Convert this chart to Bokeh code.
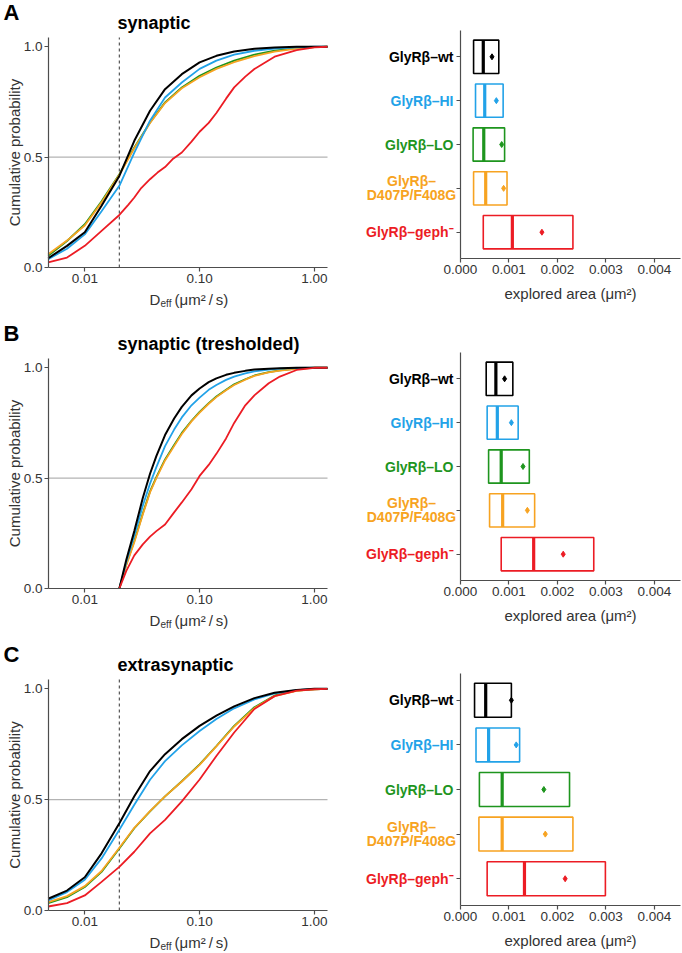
import math
from bokeh.plotting import figure
from bokeh.models import Range1d, FixedTicker, Label, LinearAxis, LogAxis
from bokeh.layouts import column, row
from bokeh.embed import file_html
from bokeh.resources import INLINE

FONT = "Liberation Sans"
AXIS_COL = "#4d4d4d"
TEXT_COL = "#333333"

# ---------------- categories ----------------
group_lines = [["GlyRβ–wt"], ["GlyRβ–HI"], ["GlyRβ–LO"], ["GlyRβ–", "D407P/F408G"], ["GlyRβ–geph⁻"]]
group_colors = ["#000000", "#22a2e8", "#1e951e", "#f7a321", "#ec1c24"]
group_pos = [5, 4, 3, 2, 1]

# ---------------- CDF curves (D_eff in um^2/s, cumulative probability) ----------------
a_x = [0.0048, 0.007, 0.01, 0.014, 0.02, 0.027, 0.037, 0.05, 0.07, 0.1, 0.14, 0.2, 0.3, 0.45, 0.7, 1.0, 1.3]
a_wt = [0.042, 0.098, 0.16, 0.28, 0.415, 0.574, 0.71, 0.808, 0.876, 0.929, 0.959, 0.979, 0.991, 0.997, 1.0, 1.0, 1.0]
a_hi = [0.038, 0.085, 0.15, 0.255, 0.37, 0.52, 0.665, 0.77, 0.838, 0.9, 0.937, 0.964, 0.982, 0.992, 0.997, 1.0, 1.0]
a_lo = [0.053, 0.12, 0.196, 0.30, 0.423, 0.544, 0.657, 0.748, 0.816, 0.869, 0.906, 0.937, 0.964, 0.982, 0.994, 0.998, 1.0]
a_dp = [0.06, 0.122, 0.19, 0.295, 0.42, 0.54, 0.655, 0.745, 0.812, 0.862, 0.9, 0.93, 0.958, 0.978, 0.992, 0.998, 1.0]
a_geph_x = [0.0048, 0.007, 0.01, 0.014, 0.02, 0.024, 0.027, 0.031, 0.037, 0.043, 0.05, 0.058, 0.07, 0.085,
            0.1, 0.12, 0.14, 0.17, 0.2, 0.25, 0.3, 0.45, 0.7, 1.0, 1.3]
a_geph = [0.023, 0.045, 0.098, 0.166, 0.238, 0.285, 0.317, 0.36, 0.40, 0.43, 0.455, 0.49, 0.521, 0.57,
          0.615, 0.655, 0.70, 0.765, 0.816, 0.865, 0.899, 0.955, 0.985, 0.997, 1.0]

b_x = [0.02, 0.023, 0.027, 0.032, 0.037, 0.042, 0.05, 0.06, 0.07, 0.085, 0.1, 0.12, 0.14, 0.17, 0.2,
       0.25, 0.3, 0.4, 0.5, 0.7, 1.0, 1.3]
b_wt = [0.0, 0.13, 0.26, 0.41, 0.52, 0.6, 0.695, 0.77, 0.823, 0.875, 0.906, 0.935, 0.952, 0.968, 0.977,
        0.986, 0.992, 0.996, 0.998, 1.0, 1.0, 1.0]
b_hi = [0.0, 0.12, 0.24, 0.375, 0.475, 0.55, 0.645, 0.72, 0.775, 0.83, 0.865, 0.9, 0.922, 0.945, 0.96,
        0.975, 0.984, 0.992, 0.996, 0.999, 1.0, 1.0]
b_lo = [0.0, 0.11, 0.215, 0.34, 0.44, 0.505, 0.585, 0.65, 0.705, 0.76, 0.80, 0.84, 0.87, 0.9, 0.925,
        0.948, 0.965, 0.98, 0.988, 0.996, 1.0, 1.0]
b_dp = [0.0, 0.105, 0.21, 0.335, 0.435, 0.5, 0.58, 0.645, 0.7, 0.757, 0.797, 0.837, 0.867, 0.898, 0.922,
        0.946, 0.963, 0.979, 0.987, 0.995, 1.0, 1.0]
b_geph = [0.0, 0.08, 0.15, 0.2, 0.235, 0.26, 0.29, 0.345, 0.39, 0.45, 0.51, 0.56, 0.61, 0.68, 0.75,
          0.83, 0.875, 0.93, 0.96, 0.99, 1.0, 1.0]

c_x = [0.0048, 0.007, 0.01, 0.014, 0.02, 0.027, 0.037, 0.05, 0.07, 0.1, 0.14, 0.2, 0.3, 0.45, 0.7, 1.0, 1.3]
c_wt = [0.053, 0.09, 0.15, 0.258, 0.394, 0.515, 0.629, 0.705, 0.773, 0.833, 0.879, 0.921, 0.958, 0.982, 0.995, 1.0, 1.0]
c_hi = [0.045, 0.083, 0.139, 0.235, 0.364, 0.477, 0.59, 0.674, 0.745, 0.81, 0.864, 0.912, 0.952, 0.979, 0.994, 1.0, 1.0]
c_lo = [0.033, 0.06, 0.106, 0.174, 0.28, 0.371, 0.447, 0.515, 0.583, 0.659, 0.742, 0.833, 0.917, 0.97, 0.992, 0.998, 1.0]
c_dp = [0.038, 0.065, 0.11, 0.178, 0.283, 0.373, 0.448, 0.515, 0.582, 0.657, 0.74, 0.83, 0.913, 0.967, 0.991, 0.998, 1.0]
c_geph = [0.018, 0.033, 0.068, 0.129, 0.197, 0.265, 0.348, 0.409, 0.492, 0.591, 0.697, 0.803, 0.909, 0.967, 0.992, 0.998, 1.0]

# ---------------- explored area box summaries (um^2), order: wt, HI, LO, D407P/F408G, geph- ----------------
a_q1 = [0.00027, 0.00031, 0.00026, 0.00027, 0.00047]
a_med = [0.00047, 0.00050, 0.00048, 0.00052, 0.00107]
a_q3 = [0.00079, 0.00088, 0.00091, 0.00096, 0.00232]
a_mean = [0.00065, 0.00074, 0.00085, 0.00089, 0.00168]

b_q1 = [0.00053, 0.00055, 0.00058, 0.00060, 0.00084]
b_med = [0.00073, 0.00076, 0.00084, 0.00087, 0.00151]
b_q3 = [0.00108, 0.00119, 0.00142, 0.00153, 0.00275]
b_mean = [0.00091, 0.00105, 0.00129, 0.00138, 0.00212]

c_q1 = [0.00029, 0.00032, 0.00039, 0.00038, 0.00055]
c_med = [0.00052, 0.00058, 0.00086, 0.00086, 0.00132]
c_q3 = [0.00105, 0.00122, 0.00225, 0.00232, 0.00299]
c_mean = [0.00105, 0.00115, 0.00172, 0.00175, 0.00216]

# ---------------- ticks, limits, reference lines ----------------
d_ticks = [0.01, 0.1, 1.0]
d_tick_labels = ["0.01", "0.10", "1.00"]
p_ticks = [0.0, 0.5, 1.0]
p_tick_labels = ["0.0", "0.5", "1.0"]
area_ticks = [0.0, 0.001, 0.002, 0.003, 0.004]
area_tick_labels = ["0.000", "0.001", "0.002", "0.003", "0.004"]
D_MIN, D_MAX = 0.00483, 1.30
P_MAX = 1.042
AREA_MAX = 0.00454
CAT_MIN, CAT_MAX = 0.4, 5.6
half_level = 0.5
d_threshold = 0.02

BOX_H = 0.76


def style_axis(ax):
    ax.axis_line_color = AXIS_COL
    ax.axis_line_width = 1.2
    ax.major_tick_line_color = AXIS_COL
    ax.major_tick_line_width = 1.2
    ax.major_tick_out = 4
    ax.major_tick_in = 0
    ax.minor_tick_line_color = None
    ax.major_label_text_font = FONT
    ax.major_label_text_font_size = "13.5px"
    ax.major_label_text_color = TEXT_COL
    ax.major_label_standoff = 2
    ax.axis_label_text_font = FONT
    ax.axis_label_text_font_size = "15px"
    ax.axis_label_text_font_style = "normal"
    ax.axis_label_text_color = TEXT_COL


def add_text(p, x, y, text, size, color=TEXT_COL, bold=False, align="left"):
    p.add_layout(Label(x=x, y=y, text=text, text_font=FONT, text_font_size=size,
                       text_font_style="bold" if bold else "normal",
                       text_baseline="middle", text_align=align, text_color=color))


def make_left(H, T, fh, letter, title, xs, wt, hi, lo, dp, gx, geph, dashed):
    W, L, R = 340, 48, 327
    lx0, lx1 = math.log10(D_MIN), math.log10(D_MAX)
    k = (lx1 - lx0) / (R - L)

    def xd(px):
        return 10 ** (lx0 + (px - L) * k)

    def yd(py):
        return (T + fh - py) * P_MAX / fh

    p = figure(width=W, height=H, x_axis_type="log", x_axis_location=None, y_axis_location=None,
               x_range=Range1d(xd(0), xd(W)), y_range=Range1d(yd(H), yd(0)),
               min_border=0, title=None, output_backend="svg", toolbar_location=None,
               outline_line_color=None)
    p.xgrid.visible = False
    p.ygrid.visible = False
    xa = LogAxis(fixed_location=0, bounds=(D_MIN, D_MAX), ticker=FixedTicker(ticks=d_ticks),
                 major_label_overrides=dict(zip(d_ticks, d_tick_labels)))
    style_axis(xa)
    p.add_layout(xa, "below")
    ya = LinearAxis(fixed_location=D_MIN, bounds=(0, P_MAX), ticker=FixedTicker(ticks=p_ticks),
                    major_label_overrides=dict(zip(p_ticks, p_tick_labels)),
                    axis_label="Cumulative probability", axis_label_standoff=-2)
    style_axis(ya)
    p.add_layout(ya, "left")

    p.segment(x0=[D_MIN], x1=[D_MAX], y0=[half_level], y1=[half_level], line_color="#b3b3b3", line_width=1.2)
    if dashed:
        p.segment(x0=[d_threshold], x1=[d_threshold], y0=[0], y1=[P_MAX], line_color="#555555",
                  line_dash="3 3", line_width=1.2)
    p.line(xs, lo, line_color=group_colors[2], line_width=1.8)
    p.line(xs, dp, line_color=group_colors[3], line_width=1.8)
    p.line(xs, hi, line_color=group_colors[1], line_width=1.8)
    p.line(xs, wt, line_color=group_colors[0], line_width=2.0)
    p.line(gx, geph, line_color=group_colors[4], line_width=1.8)

    add_text(p, xd(3), yd(max(T - 25, 12)), letter, "22px", "#000000", bold=True)
    add_text(p, xd(117), yd(T - 15), title, "18px", "#000000", bold=True)
    yl = T + fh + 32
    add_text(p, xd(149), yd(yl), "D", "15px")
    add_text(p, xd(160), yd(yl + 4), "eff", "10px")
    add_text(p, xd(174), yd(yl), "(μm²\u2009/\u2009s)", "15px")
    return p


def make_right(H, T, fh, q1, med, q3, mean):
    W, L, R = 342, 120, 340
    kx = AREA_MAX / (R - L)
    ky = (CAT_MAX - CAT_MIN) / fh

    def xd(px):
        return (px - L) * kx

    def yd(py):
        return CAT_MIN + (T + fh - py) * ky

    p = figure(width=W, height=H, x_axis_location=None, y_axis_location=None,
               x_range=Range1d(xd(0), xd(W)), y_range=Range1d(yd(H), yd(0)),
               min_border=0, title=None, output_backend="svg", toolbar_location=None,
               outline_line_color=None)
    p.xgrid.visible = False
    p.ygrid.visible = False
    xa = LinearAxis(fixed_location=CAT_MIN, bounds=(0, AREA_MAX), ticker=FixedTicker(ticks=area_ticks),
                    major_label_overrides=dict(zip(area_ticks, area_tick_labels)),
                    axis_label="explored area (μm²)", axis_label_standoff=8)
    style_axis(xa)
    p.add_layout(xa, "below")
    ya = LinearAxis(fixed_location=0, bounds=(CAT_MIN, CAT_MAX), ticker=FixedTicker(ticks=group_pos),
                    major_label_overrides={v: "" for v in group_pos})
    style_axis(ya)
    p.add_layout(ya, "left")

    p.hbar(y=group_pos, left=q1, right=q3, height=BOX_H, fill_color=None,
           line_color=group_colors, line_width=1.6)
    y0 = [y - BOX_H / 2 for y in group_pos]
    y1 = [y + BOX_H / 2 for y in group_pos]
    p.segment(x0=med, y0=y0, x1=med, y1=y1, line_color=group_colors, line_width=3.2)
    p.scatter(x=mean, y=group_pos, marker="diamond", size=6, fill_color=group_colors,
              line_color=group_colors)
    for lines, col, y in zip(group_lines, group_colors, group_pos):
        if len(lines) == 1:
            add_text(p, xd(113), y, lines[0], "14px", col, bold=True, align="right")
        else:
            for j, t in enumerate(lines):
                add_text(p, xd(71), y + (7 - 14 * j) * ky, t, "14px", col, bold=True, align="center")
    return p


al = make_left(310, 37, 230, "A", "synaptic", a_x, a_wt, a_hi, a_lo, a_dp, a_geph_x, a_geph, True)
ar = make_right(310, 30, 228, a_q1, a_med, a_q3, a_mean)
bl = make_left(320, 48, 230, "B", "synaptic (tresholded)", b_x, b_wt, b_hi, b_lo, b_dp, b_x, b_geph, False)
br = make_right(320, 42, 228, b_q1, b_med, b_q3, b_mean)
cl = make_left(323, 49, 231, "C", "extrasynaptic", c_x, c_wt, c_hi, c_lo, c_dp, c_x, c_geph, True)
cr = make_right(323, 43, 232, c_q1, c_med, c_q3, c_mean)

layout = column(row(al, ar, spacing=0), row(bl, br, spacing=0), row(cl, cr, spacing=0), spacing=0)

open("out.html", "w").write(file_html(layout, INLINE))
